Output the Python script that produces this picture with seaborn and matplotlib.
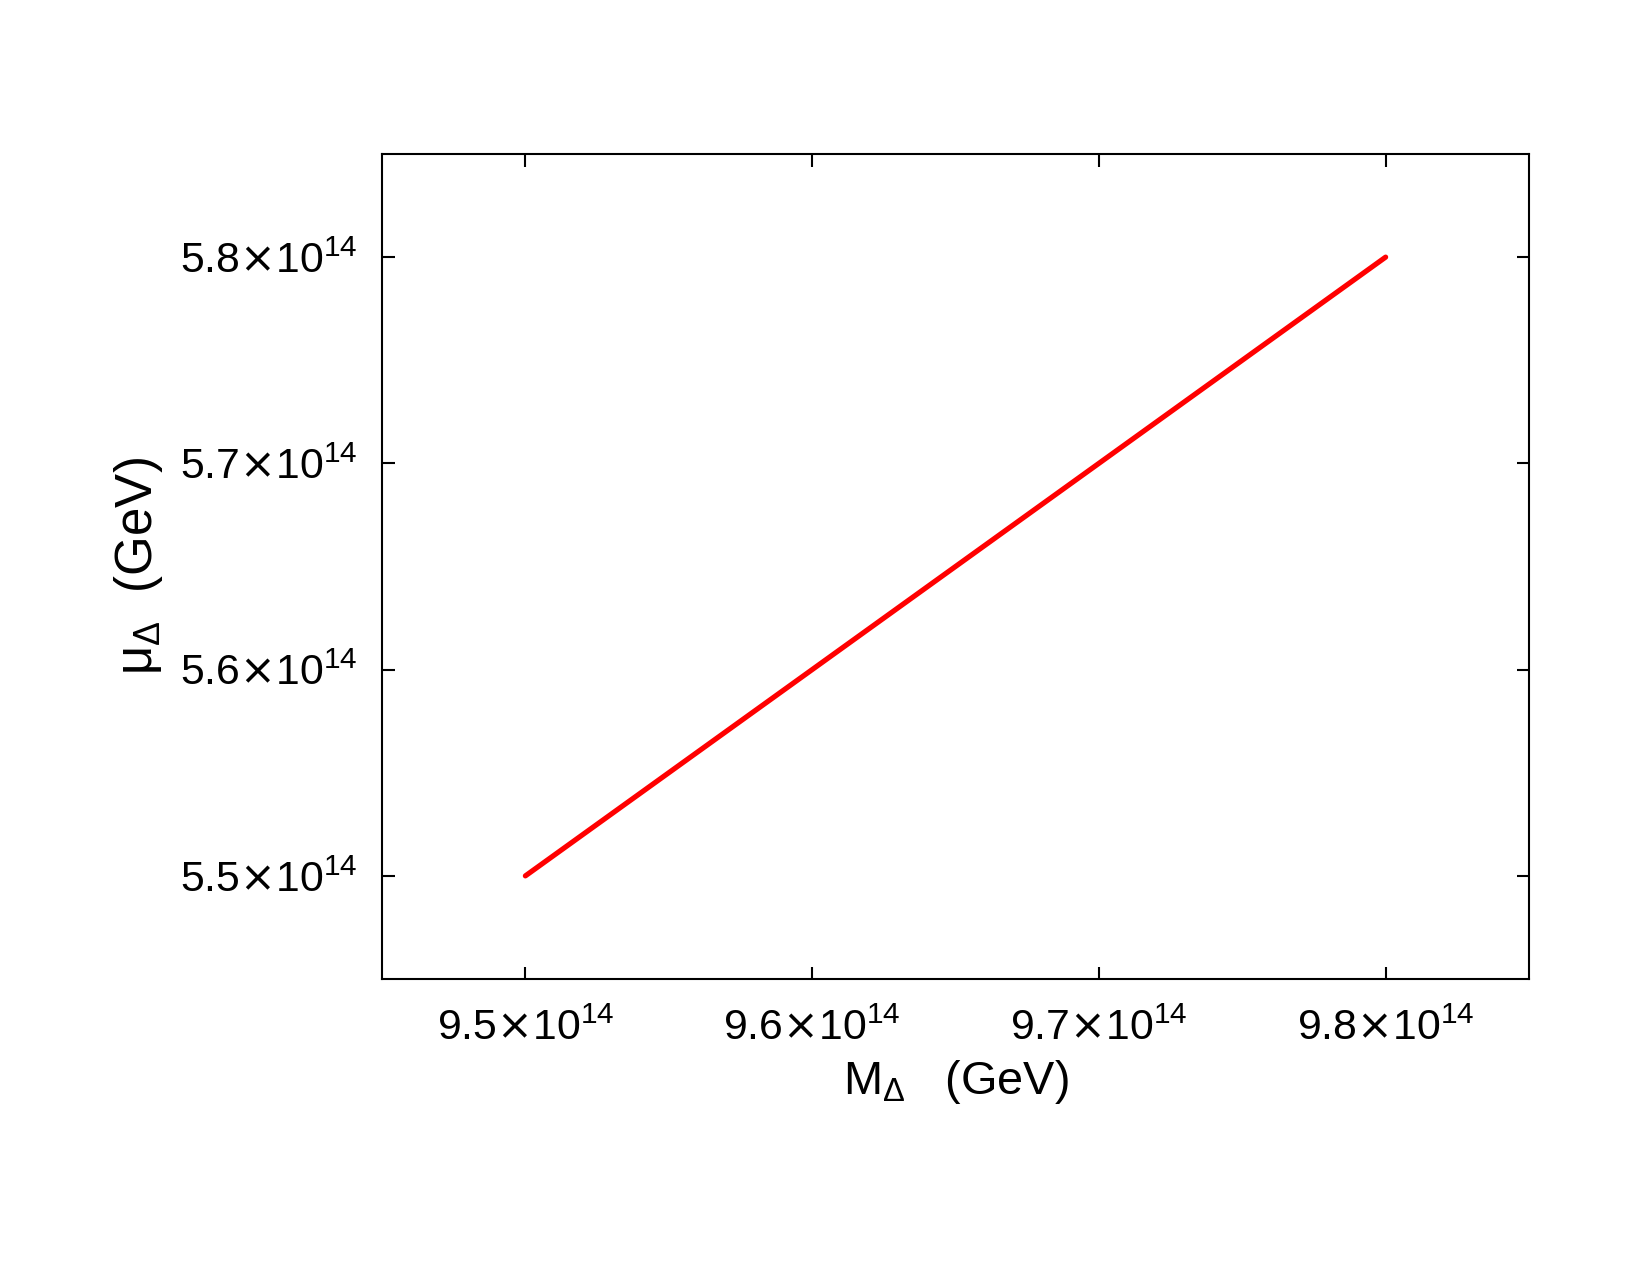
import matplotlib
matplotlib.use("Agg")
import matplotlib.pyplot as plt
import seaborn as sns
import pandas as pd
from matplotlib.ticker import FuncFormatter, FixedLocator

# Data (GeV)
m_delta = [9.5e14, 9.6e14, 9.7e14, 9.8e14]
mu_delta = [5.5e14, 5.6e14, 5.7e14, 5.8e14]
x_ticks = [9.5e14, 9.6e14, 9.7e14, 9.8e14]
y_ticks = [5.5e14, 5.6e14, 5.7e14, 5.8e14]

sns.set_theme(style="white")
plt.rcParams['font.family'] = ['Liberation Sans', 'DejaVu Sans']
plt.rcParams['mathtext.fontset'] = 'custom'
plt.rcParams['mathtext.rm'] = 'Liberation Sans'
plt.rcParams['mathtext.it'] = 'Liberation Sans'
plt.rcParams['mathtext.bf'] = 'Liberation Sans:bold'
plt.rcParams['mathtext.sf'] = 'DejaVu Sans'

df = pd.DataFrame({"M": m_delta, "mu": mu_delta})

fig = plt.figure(figsize=(11, 8.5), dpi=150)
ax = fig.add_axes([382/1650, 1 - 979/1275, (1529-382)/1650, (979-154)/1275])

sns.lineplot(data=df, x="M", y="mu", ax=ax, color="#ff0000", linewidth=2.5)

ax.set_xlim(9.45e14, 9.85e14)
ax.set_ylim(5.45e14, 5.85e14)
ax.xaxis.set_major_locator(FixedLocator(x_ticks))
ax.yaxis.set_major_locator(FixedLocator(y_ticks))

def fmt(v, pos):
    return r'$\mathregular{%.1f}\mathsf{×}\mathregular{10^{14}}$' % (v / 1e14)

ax.xaxis.set_major_formatter(FuncFormatter(fmt))
ax.yaxis.set_major_formatter(FuncFormatter(fmt))

for s in ax.spines.values():
    s.set_visible(True)
    s.set_color("black")
    s.set_linewidth(1.0)

ax.tick_params(axis='both', which='major', direction='in', length=6, width=1.0,
               color='black', labelsize=20.5, top=True, right=True,
               bottom=True, left=True, labelcolor='black')
ax.tick_params(axis='x', pad=14)
ax.tick_params(axis='y', pad=12)

ax.set_xlabel(r'M$_{\Delta}$   (GeV)', fontsize=22.5, color='black')
ax.set_ylabel(r'$\mu_{\Delta}$  (GeV)', fontsize=24.5, color='black')
ax.xaxis.set_label_coords(0.5, (979 - 1058) / 825)
ax.yaxis.set_label_coords((165 - 382) / 1147, 0.5)
ax.grid(False)

fig.savefig("out.png", dpi=150, facecolor="white")
